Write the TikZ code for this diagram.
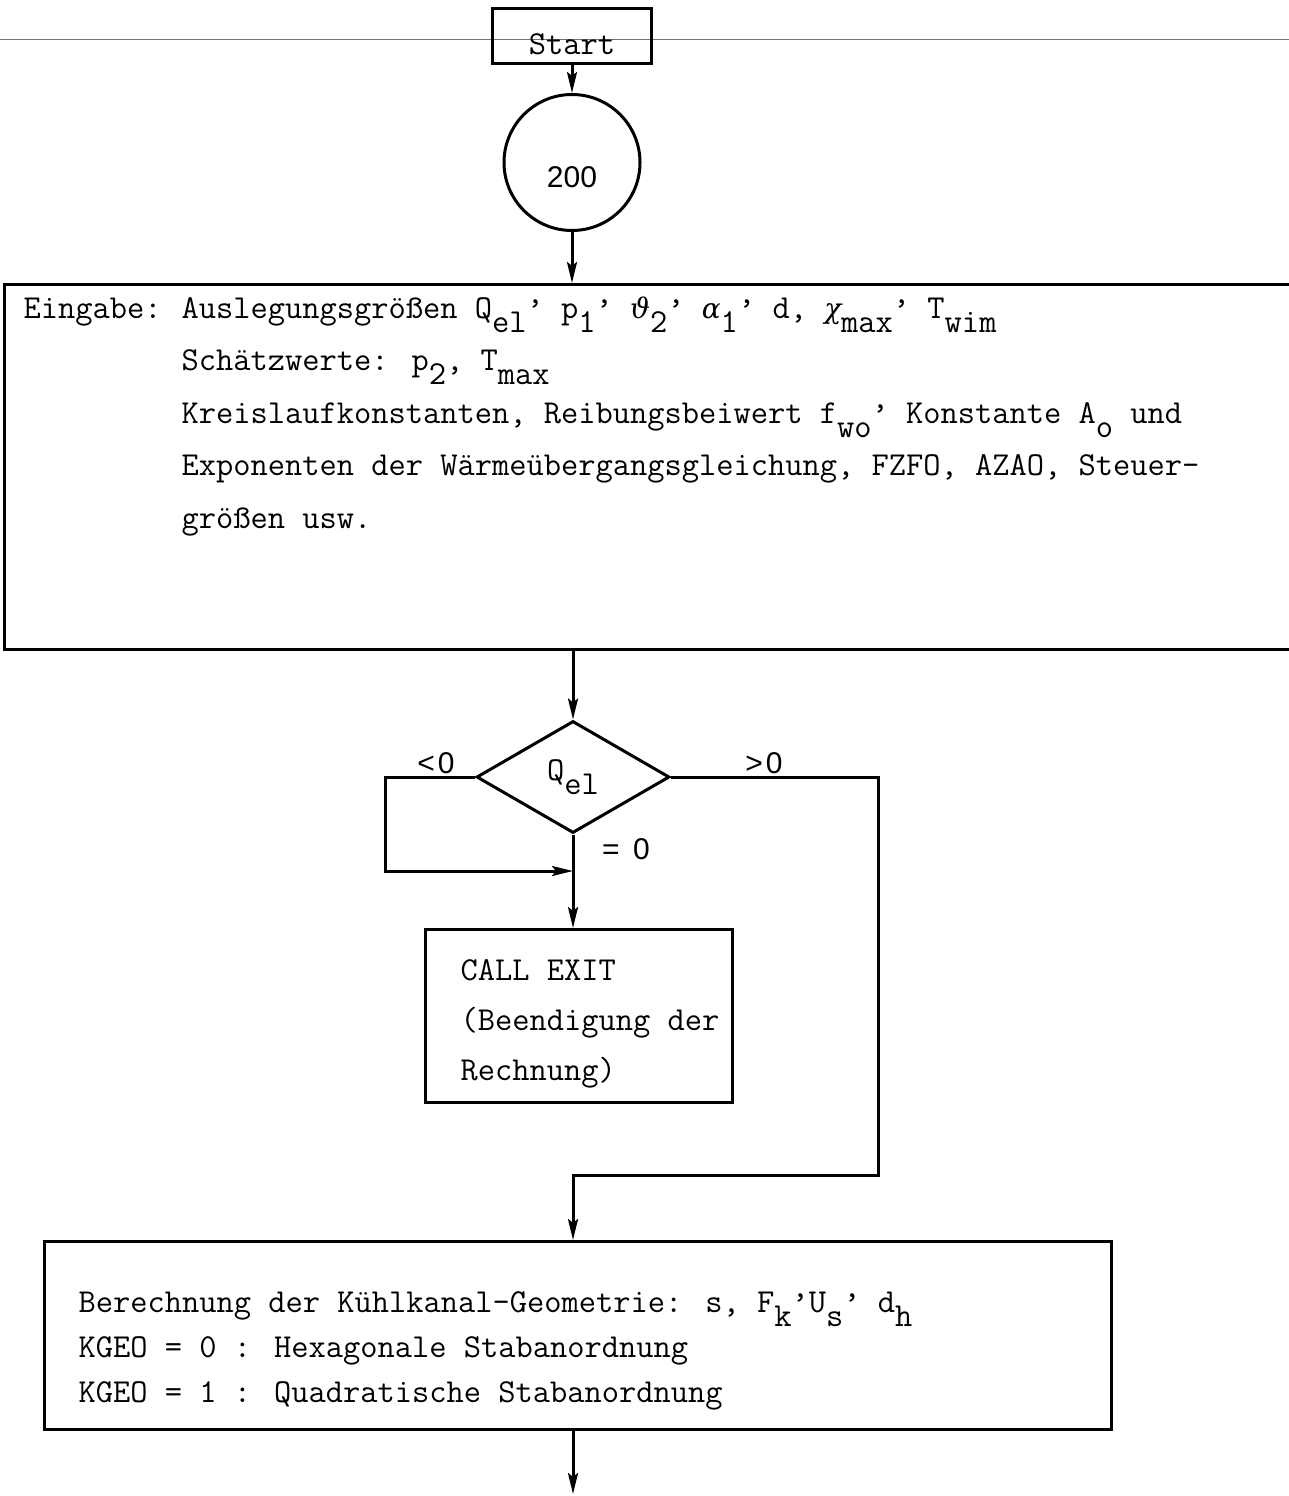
\documentclass[tikz,border=0pt]{standalone}
\usepackage{fontspec}
\setsansfont{Liberation Sans}
\newfontfamily\grk{DejaVu Serif}
\usetikzlibrary{arrows.meta, shapes.geometric, positioning}
\newcommand{\dn}[1]{\raisebox{-0.42em}{#1}}
\newcommand{\up}[1]{\raisebox{0.42em}{#1}}
\newcommand{\gr}[1]{{\grk\itshape\fontsize{28}{30}\selectfont #1}}

\begin{document}
\begin{tikzpicture}
    [
        x=1pt, y=-1pt,
        line width=3pt,
        >={Stealth[length=21pt, width=10pt, inset=4pt]},
        typed/.style = {
            font=\fontsize{33.5}{#1}\selectfont\ttfamily, inner sep=0pt
            },
        typed/.default = 50,
        frame/.style = {
            rectangle, draw, inner sep=0pt
            },
        sans label/.style = {
            font=\fontsize{30}{34}\selectfont\sffamily
            },
    ]
    \useasboundingbox (0,0) rectangle (1289,1496);
    %page rule
    \draw[line width=0.8pt, black!55] (0,39) -- (1289,39);
    %nodes
    \node[frame, typed, minimum width=159pt, minimum height=55pt, text height=45pt, text depth=8pt] (start) at (572,36.5) {Start};
    \node[circle, draw, minimum size=136pt, sans label, text height=60pt, text depth=11pt] (c200) at (572,162.5) {200};
    \node[frame, anchor=north west, minimum width=1300pt, minimum height=365pt] (input) at (3,283) {};
    \node[typed, anchor=base west] (eingabe) at (22,318) {Eingabe:};
    \node[typed=52.5, anchor=base west] (inputtext) at (180,318) {\begin{tabular}[t]{@{}l@{}}
        Auslegungsgrößen Q\dn{el}\up{,} p\dn{1}\up{,} \gr{ϑ}\dn{2}\up{,} \gr{α}\dn{1}\up{,} d, \gr{χ}\dn{max}\up{,} T\dn{wim}\\
        Schätzwerte: p\dn{2}, T\dn{max}\\
        Kreislaufkonstanten, Reibungsbeiwert f\dn{wo}\up{,} Konstante A\dn{o} und\\
        Exponenten der Wärmeübergangsgleichung, FZFO, AZAO, Steuer-\\
        größen usw.
    \end{tabular}};
    \node[diamond, draw, typed, aspect=1.72, minimum width=193pt, minimum height=112pt] (qel) at (573,777) {Q\dn{el}};
    \node[sans label] (lt) at (436,763) {<\hspace{0.1em}0};
    \node[sans label] (gt) at (764,763) {>\hspace{0.1em}0};
    \node[sans label] (eq) at (626,849) {=\hspace{0.45em}0};
    \node[frame, anchor=north west, minimum width=307pt, minimum height=173pt] (exit) at (424,928) {};
    \node[typed, anchor=base west] (exittext) at (459,980) {\begin{tabular}[t]{@{}l@{}}
        CALL EXIT\\
        (Beendigung der\\
        Rechnung)
    \end{tabular}};
    \node[frame, anchor=north west, minimum width=1067pt, minimum height=188pt] (calc) at (43,1240) {};
    \node[typed=45, anchor=base west] (calctext) at (77,1312) {\begin{tabular}[t]{@{}l@{}}
        Berechnung der Kühlkanal-Geometrie: s, F\dn{k}\up{,}U\dn{s}\up{,} d\dn{h}\\
        KGEO = 0 : Hexagonale Stabanordnung\\
        KGEO = 1 : Quadratische Stabanordnung
    \end{tabular}};
    \coordinate (lbend) at (385,871);
    \coordinate (join) at (573,871);
    \coordinate (rbend) at (878,1175);
    \coordinate (merge) at (573,1175);
    \coordinate (next) at (573,1494);
    %connecting nodes
    \draw[->] (start) -- (c200);
    \draw[->] (c200) -- (c200 |- input.north);
    \draw[->] (qel.north |- input.south) -- (qel.north);
    \draw[->] (qel.west) -| (lbend) -- (join);
    \draw[->] (qel.south) -- (qel.south |- exit.north);
    \draw[->] (qel.east) -| (rbend) -- (merge) -- (merge |- calc.north);
    \draw[->] (merge |- calc.south) -- (next);
\end{tikzpicture}
\end{document}
